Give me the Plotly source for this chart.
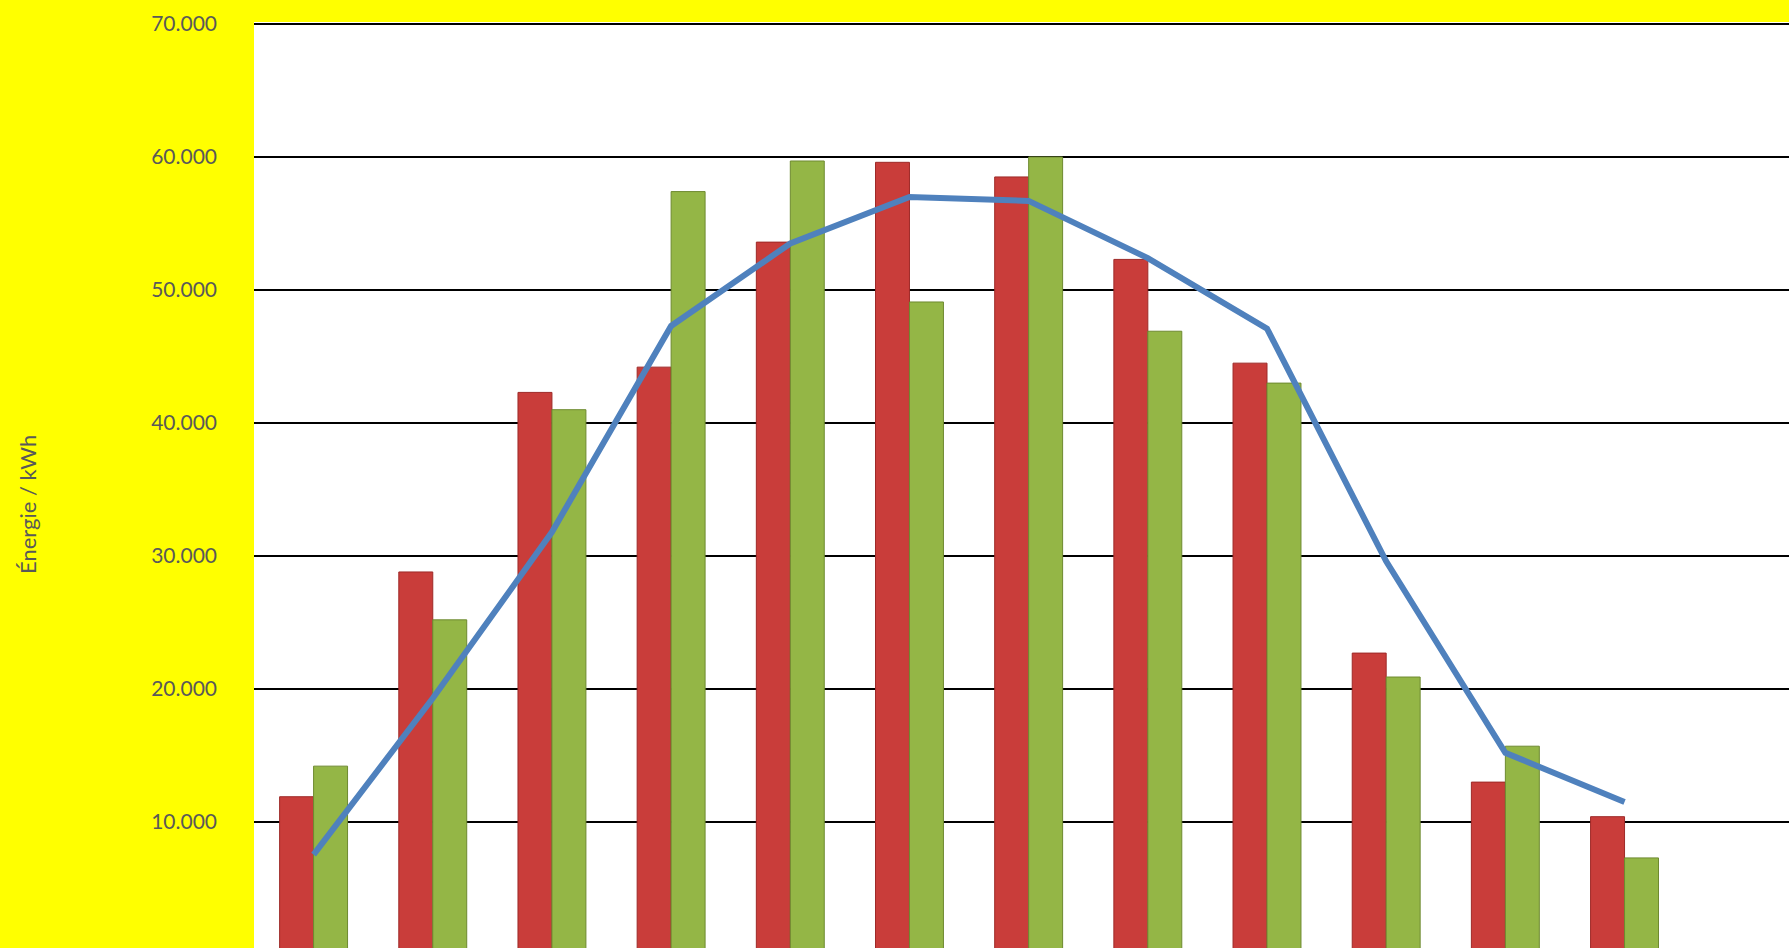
import plotly.graph_objects as go

months = ["Jan", "Fév", "Mar", "Avr", "Mai", "Juin", "Juil", "Août", "Sep", "Oct", "Nov", "Déc"]
serie_rouge = [11900, 28800, 42300, 44200, 53600, 59600, 58500, 52300, 44500, 22700, 13000, 10400]
serie_verte = [14200, 25200, 41000, 57400, 59700, 49100, 60000, 46900, 43000, 20900, 15700, 7300]
serie_ligne = [7550, 19300, 31800, 47300, 53500, 57000, 56700, 52400, 47100, 29600, 15200, 11500]
y_ticks = [10000, 20000, 30000, 40000, 50000, 60000, 70000]
y_tick_text = ["10.000", "20.000", "30.000", "40.000", "50.000", "60.000", "70.000"]

x = list(range(len(months)))

fig = go.Figure()
fig.add_trace(go.Bar(
    x=x, y=serie_rouge, name="Série 1",
    marker=dict(color="#C93D3A", line=dict(color="#9E2A28", width=1)),
))
fig.add_trace(go.Bar(
    x=x, y=serie_verte, name="Série 2",
    marker=dict(color="#94B646", line=dict(color="#6E8A30", width=1)),
))
fig.add_trace(go.Scatter(
    x=x, y=serie_ligne, mode="lines", name="Moyenne",
    line=dict(color="#4F81BD", width=6),
))

fig.update_layout(
    width=1789, height=948,
    margin=dict(l=254, r=0, t=22, b=0),
    paper_bgcolor="#FFFF00",
    plot_bgcolor="#FFFFFF",
    barmode="group",
    bargap=0.43,
    bargroupgap=0,
    showlegend=False,
    font=dict(family="Lato, Open Sans, sans-serif", color="#595959", size=21),
    xaxis=dict(
        range=[-0.5, 12.38],
        showticklabels=False, showgrid=False, zeroline=False,
        tickvals=x, ticktext=months,
    ),
    yaxis=dict(
        range=[526, 70150],
        tickvals=y_ticks, ticktext=y_tick_text,
        showgrid=True, gridcolor="#000000", gridwidth=2,
        zeroline=False,
        ticklabelstandoff=36,
        tickfont=dict(size=21, color="#595959"),
    ),
    annotations=[dict(
        text="Énergie / kWh", textangle=-90,
        xref="paper", yref="paper",
        x=(27 - 254) / 1535, y=(948 - 505) / 926,
        xanchor="center", yanchor="middle",
        showarrow=False,
        font=dict(size=22, color="#595959"),
    )],
)

fig.write_html(
    "out.html",
    config={"displayModeBar": False},
    post_script="document.body.style.margin='0';document.body.style.padding='0';",
)
